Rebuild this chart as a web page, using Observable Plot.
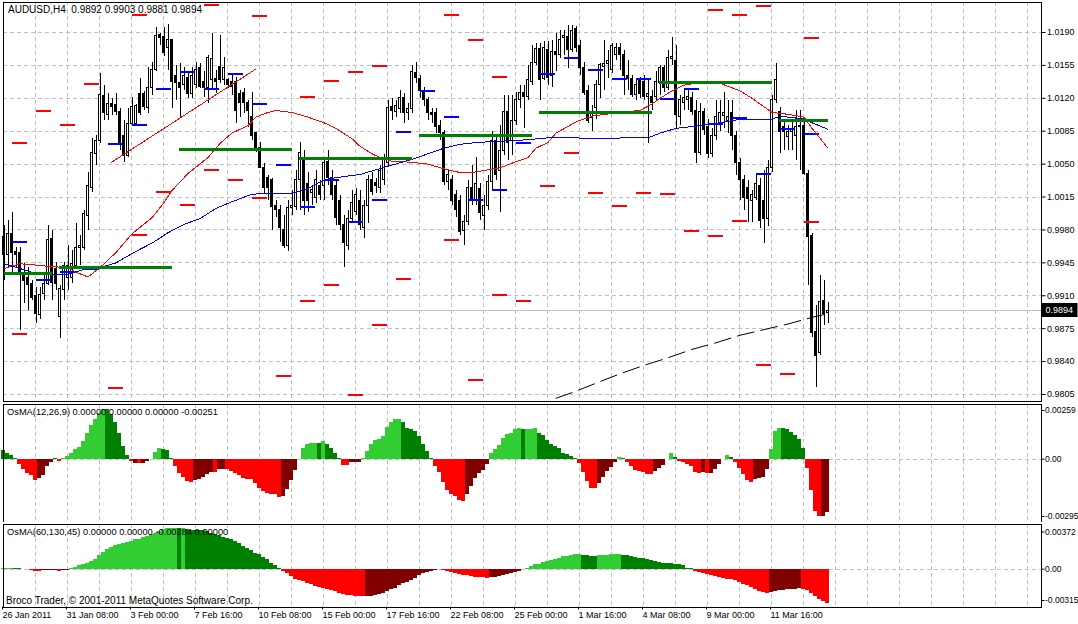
<!DOCTYPE html>
<html><head><meta charset="utf-8">
<script src="https://cdn.jsdelivr.net/npm/d3@7"></script>
<script src="https://cdn.jsdelivr.net/npm/@observablehq/plot@0.6"></script>
<style>
html,body{margin:0;padding:0;background:#fff;overflow:hidden;}
#chart{width:1078px;height:624px;}
#chart svg{display:block;}
</style></head><body><div id="chart"></div>
<script>
// ---------------- DATA ----------------
const symbol = "AUDUSD,H4";
const timeLabels = ["26 Jan 2011","31 Jan 08:00","3 Feb 00:00","7 Feb 16:00","10 Feb 08:00","15 Feb 00:00","17 Feb 16:00","22 Feb 08:00","25 Feb 00:00","1 Mar 16:00","4 Mar 08:00","9 Mar 00:00","11 Mar 16:00"];
const timeLabelBars = [0,16,32,48,64,80,96,112,128,144,160,176,192];
const gridBars = [8,16,24,32,40,48,56,64,72,80,88,96,104,112,120,128,136,144,152,160,168,176,184,192,200,208,216,224,232,240,248,256];
const priceTicks = [1.0190,1.0155,1.0120,1.0085,1.0050,1.0015,0.9980,0.9945,0.9910,0.9875,0.9840,0.9805];
const osma1Ticks = [0.00259, 0, -0.00295];
const osma2Ticks = [0.00372, 0, -0.00315];

// OHLC in pips (price x 10000), one H4 bar each
const openP = [
9972,9953,9976,9957,9955,9934,9929,9922,9910,9890,
9912,9923,9970,9939,9887,9916,9929,9929,9942,9961,
9961,9995,10025,10061,10075,10122,10102,10114,10113,10105,
10080,10059,10093,10093,10125,10125,10110,10131,10150,10187,
10185,10173,10182,10144,10136,10134,10142,10125,10134,10152,
10137,10131,10139,10141,10153,10139,10139,10137,10137,10125,
10126,10115,10100,10083,10067,10046,10035,10033,10006,10001,
9980,9963,10003,10004,10033,10057,10029,10019,10014,10027,
10027,10052,10035,10027,10011,9985,9963,9992,9999,10011,
9982,10006,10033,10030,10025,10033,10051,10111,10105,10109,
10120,10104,10109,10147,10141,10128,10118,10104,10104,10091,
10083,10031,10033,10017,10011,9979,9988,10025,10011,10024,
9995,10006,10031,10075,10043,10064,10105,10075,10096,10118,
10126,10121,10137,10158,10172,10141,10171,10144,10169,10166,
10184,10185,10171,10194,10176,10152,10128,10099,10110,10134,
10153,10157,10150,10166,10173,10166,10144,10141,10123,10139,
10137,10121,10121,10121,10136,10152,10131,10162,10160,10100,
10115,10118,10120,10107,10062,10105,10089,10061,10080,10093,
10101,10096,10104,10080,10051,10033,10025,10011,10014,10027,
10011,9992,10046,10118,10105,10089,10079,10084,10080,10091,
10091,10040,9974,9871,9849,9904,9892];
const highP = [
9985,9990,9999,9961,9961,9944,9940,9926,9919,9919,
9934,9985,9979,9945,9921,9945,9963,9958,9987,9974,
10001,10041,10077,10080,10146,10134,10125,10120,10125,10109,
10096,10109,10121,10113,10141,10127,10153,10158,10195,10189,
10195,10198,10183,10155,10157,10153,10148,10153,10158,10157,
10148,10166,10189,10150,10187,10163,10141,10144,10142,10128,
10130,10118,10126,10084,10073,10051,10038,10035,10011,10006,
9995,10011,10022,10043,10073,10064,10041,10027,10043,10033,
10054,10064,10043,10033,10017,9995,10001,10022,10024,10022,
10011,10038,10041,10035,10049,10060,10118,10120,10118,10128,
10125,10115,10155,10158,10144,10131,10121,10109,10109,10096,
10086,10043,10038,10022,10017,9995,10033,10049,10057,10029,
10017,10038,10085,10080,10091,10123,10123,10123,10126,10134,
10134,10155,10176,10178,10178,10180,10180,10182,10189,10192,
10192,10197,10197,10196,10182,10158,10134,10112,10139,10157,
10182,10171,10178,10178,10178,10171,10160,10144,10141,10142,
10144,10139,10128,10148,10155,10155,10171,10185,10176,10123,
10130,10130,10126,10118,10115,10109,10098,10088,10118,10118,
10126,10118,10118,10085,10056,10038,10033,10022,10038,10035,
10043,10054,10123,10157,10110,10096,10091,10096,10107,10107,
10096,10043,9976,9900,9932,9926,9903];
const lowP = [
9926,9939,9935,9940,9873,9902,9894,9905,9880,9885,
9905,9921,9905,9916,9865,9905,9916,9923,9940,9942,
9958,9979,10020,10049,10072,10096,10096,10102,10102,10064,
10052,10057,10091,10091,10102,10107,10104,10123,10148,10176,
10164,10150,10109,10118,10100,10128,10120,10120,10130,10130,
10121,10114,10130,10125,10136,10134,10130,10123,10093,10100,
10104,10089,10075,10062,10045,10019,10011,9979,9993,9967,
9960,9957,9995,10001,10001,9995,9999,10006,10008,10011,
10011,10027,10011,9985,9979,9940,9958,9988,9995,9979,
9971,9987,10017,10019,10019,10027,10046,10096,10100,10104,
10093,10096,10104,10136,10120,10111,10096,10093,10083,10075,
10027,10022,10006,9993,9974,9963,9985,10006,10006,9990,
9979,10001,10022,10033,9999,10059,10054,10059,10091,10109,
10088,10118,10134,10155,10118,10139,10134,10131,10148,10162,
10166,10152,10169,10169,10144,10123,10093,10085,10098,10120,
10128,10141,10146,10160,10150,10123,10128,10121,10118,10120,
10118,10072,10107,10118,10123,10126,10128,10155,10088,10091,
10107,10107,10102,10051,10059,10080,10056,10057,10075,10085,
10088,10083,10064,10038,10011,10001,9988,9988,10011,9982,
9966,9984,10041,10114,10061,10064,10064,10064,10054,10043,
10038,9921,9866,9812,9846,9878,9881];
const closeP = [
9953,9976,9956,9953,9935,9926,9921,9908,9891,9911,
9923,9969,9924,9923,9917,9942,9942,9944,9961,9963,
9997,10027,10062,10075,10123,10104,10114,10111,10105,10073,
10059,10093,10111,10112,10104,10111,10131,10150,10186,10184,
10168,10182,10137,10136,10131,10144,10125,10144,10150,10132,
10131,10163,10162,10137,10139,10152,10134,10132,10107,10115,
10115,10107,10080,10067,10046,10025,10025,10004,10001,9982,
9963,10003,10006,10033,10062,10011,10011,10022,10033,10017,
10051,10035,10017,9993,9985,9966,9992,10009,10017,9985,
10006,10033,10020,10027,10043,10054,10110,10107,10112,10120,
10104,10109,10148,10142,10128,10118,10104,10102,10089,10083,
10031,10038,10011,10001,9978,9988,10025,10011,10029,9998,
10006,10031,10075,10038,10064,10105,10072,10096,10118,10126,
10121,10139,10158,10172,10139,10174,10142,10169,10166,10182,
10186,10171,10192,10174,10152,10126,10096,10104,10134,10155,
10157,10160,10176,10174,10166,10144,10141,10123,10134,10125,
10121,10125,10115,10137,10152,10131,10163,10164,10102,10118,
10120,10121,10105,10062,10105,10086,10061,10080,10100,10104,
10104,10100,10080,10051,10033,10014,10013,10017,10029,9990,
9992,10046,10118,10139,10084,10084,10084,10086,10089,10089,
10040,9972,9870,9846,9903,9891,9894];

// moving averages (bar index, pips)
const redMABars = [0,4,7,12,16,18,21,24,28,32,37,40,42,46,51,54,57,61,63,66,68,72,76,80,83,87,89,92,94,97,102,106,110,114,117,121,124,127,131,133,136,138,141,143,147,152,156,159,162,164,167,170,173,179,184,187,190,192,196,200,202,206];
const redMALevels = [9939,9944,9943,9941,9940,9935,9930,9940,9956,9976,9993,10009,10022,10040,10057,10072,10083,10091,10100,10105,10107,10105,10100,10094,10088,10077,10069,10061,10057,10053,10052,10050,10045,10041,10041,10044,10046,10051,10057,10067,10073,10083,10090,10095,10101,10104,10106,10107,10114,10120,10128,10134,10136,10136,10128,10120,10111,10105,10103,10100,10088,10067];
const blueMABars = [0,4,7,12,16,20,24,28,32,37,41,45,49,53,57,62,66,72,76,79,82,87,89,97,102,106,110,114,118,122,127,131,136,143,147,156,161,164,168,172,179,183,192,194,200,202,206];
const blueMALevels = [9944,9939,9935,9932,9933,9938,9940,9945,9955,9966,9977,9986,9992,10003,10010,10018,10019,10019,10024,10031,10035,10038,10039,10049,10055,10061,10067,10071,10073,10074,10075,10076,10078,10078,10077,10078,10078,10083,10088,10090,10094,10097,10098,10101,10098,10094,10087];
const slowMABars = [138,142,148,154,160,166,172,178,184,190,196,202,206];
const slowMALevels = [9801,9807,9817,9827,9836,9844,9853,9860,9868,9874,9880,9887,9891];

// daily levels (day number from 27 Jan), pips
const firstDayBar = 2, barsPerDay = 6;
const redDashDays = [0,0,1,2,3,4,5,5,6,7,8,8,9,10,10,11,12,12,13,13,14,14,15,15,16,18,18,19,19,20,20,21,22,23,24,25,26,27,28,29,29,30,30,31,31,32,33,33];
const redDashLevels = [10073,9869,10106,10092,10135,9812,9975,10209,10020,10007,10219,10044,10033,10208,10014,9825,10121,9904,10138,9921,10148,9805,10154,9879,9928,10209,9969,10182,9820,10143,9911,9904,10027,10062,10019,10005,10019,10018,9979,10214,9974,10209,9990,10218,9836,9827,10184,9988];
const blueDashLevels = [9967,9927,9935,9938,10071,10092,10130,10148,10130,10146,10114,10049,10004,10033,9988,10012,10084,10128,10100,10012,10023,10073,10146,10163,10150,10141,10141,10119,10130,10093,10099,10039,10087,10082];

// weekly levels (start bar of week), pips
const weekStartBars = [-16,14,44,74,104,134,164,194];
const weekLevels = [9934,9940,10066,10056,10080,10105,10137,10096];

// trend line
const trendBars = [26.9, 62.9];
const trendLevels = [10052, 10151];

// OsMA(12,26,9) in 1e-5
const osma1Values = [
39,25,16,5,-27,-50,-69,-78,-101,-93,
-78,-34,-16,1,-11,3,13,28,44,56,
83,122,157,185,216,234,232,208,172,122,
60,16,-11,-22,-22,-22,-11,-3,31,48,
44,41,1,-34,-69,-85,-105,-110,-100,-97,
-85,-74,-63,-63,-47,-47,-50,-58,-69,-78,
-89,-94,-97,-113,-136,-152,-160,-165,-168,-179,
-174,-144,-100,-53,-3,52,67,75,75,72,
81,67,52,28,5,-31,-31,-16,-16,-16,
5,36,67,88,91,107,149,174,185,188,
172,146,138,130,107,67,36,3,-34,-63,
-110,-147,-168,-175,-194,-199,-168,-128,-89,-69,
-53,-27,25,47,63,99,114,122,138,146,
138,138,141,146,119,110,88,67,60,52,
28,20,13,5,-22,-63,-105,-136,-137,-113,
-85,-58,-39,-16,6,3,-16,-34,-53,-58,
-63,-72,-73,-58,-42,-31,-3,25,9,-11,
-16,-24,-34,-63,-66,-63,-66,-65,-47,-27,
-3,16,9,-16,-42,-74,-100,-110,-94,-89,
-85,-47,44,130,146,145,138,125,110,94,
52,-42,-147,-246,-270,-268,-251];
const osma1States = ["GGGG","RRRRR","MMMM","G","R","LLLLLLLLLLL","GGGGGG","R","MRMMM","LL","GGG","RRRRR","MMMMM","R","MM","RRRRRRRRRRRRRR","MMMMM","LLLL","G","L","GGGG","RR","MMM","LLLLLLLLLL","GGGGGGGG","RRRRRRRR","MMMMMM","LLLLLLLL","G","LLL","GGGGGGGGGG","RRRRR","MMMMM","L","G","RRRRRRR","MMMM","L","G","RRRRRR","M","R","MMMM","L","G","RRRRR","MMMM","LLL","GGGGGG","RRRR","MM"];

// OsMA(60,130,45) in 1e-5
const osma2Values = [
2,2,6,6,2,1,1,-11,-17,-19,
-11,-11,-11,-11,-19,-11,-8,6,14,27,
36,50,64,83,111,139,160,180,194,208,
216,222,230,243,249,263,272,285,299,313,
327,335,337,341,339,340,327,326,325,324,
322,313,299,291,277,263,258,243,230,210,
189,175,155,133,119,100,77,50,27,8,
-19,-33,-61,-83,-94,-102,-116,-130,-144,-152,
-160,-172,-177,-189,-199,-210,-219,-222,-227,-227,
-230,-229,-227,-222,-214,-199,-185,-172,-158,-139,
-122,-111,-94,-75,-56,-39,-27,-19,-11,-6,
-11,-19,-27,-33,-42,-52,-53,-61,-66,-69,
-70,-75,-69,-68,-61,-56,-47,-39,-27,-19,
-6,6,22,36,37,56,64,72,77,86,
102,103,111,119,120,111,110,106,105,111,
112,113,119,120,121,114,111,106,97,91,
89,83,72,64,56,50,49,48,42,36,
27,8,6,-19,-27,-33,-47,-52,-61,-69,
-75,-83,-89,-97,-111,-125,-139,-152,-166,-185,
-194,-199,-194,-185,-180,-179,-172,-171,-166,-165,
-172,-180,-199,-227,-249,-268,-284];
const osma2StateCodes = ["L","G","R","M","R","M","L","G","L","G","R","M","R","M","L","G","L","G","R","M","R"];
const osma2StateRuns = [3,4,3,4,1,2,27,1,1,24,21,19,12,9,14,4,6,18,19,8,7];

// ---------------- BUILD ----------------
const STATE_COLORS = {L: "#32CD32", G: "#008000", R: "#FF0000", M: "#800000"};
const GRID = "#c0c0c0";
const FONT = "'Liberation Sans', Arial, sans-serif";
const N = openP.length;
const bars = openP.map((o, i) => ({i, o: o / 1e4, h: highP[i] / 1e4, l: lowP[i] / 1e4, c: closeP[i] / 1e4}));
const bull = bars.filter(d => d.c >= d.o);
const bear = bars.filter(d => d.c < d.o);
const flat = bars.filter(d => Math.abs(d.c - d.o) < 0.00015);
const last = bars[N - 1];
const toPts = (bs, ls) => bs.map((b, k) => ({i: b, p: ls[k] / 1e4}));
const redMA = toPts(redMABars, redMALevels);
const blueMA = toPts(blueMABars, blueMALevels);
const slowMA = toPts(slowMABars, slowMALevels);
const trend = toPts(trendBars, trendLevels);
const redDash = redDashDays.map((d, k) => ({s: firstDayBar + barsPerDay * d, p: redDashLevels[k] / 1e4}));
const blueDash = blueDashLevels.map((v, d) => ({s: firstDayBar + barsPerDay * d, p: v / 1e4}));
const weeks = weekStartBars.map((s, k) => ({s, p: weekLevels[k] / 1e4}));
const codes1 = osma1States.join("").split("");
const codes2 = osma2StateCodes.flatMap((c, k) => Array(osma2StateRuns[k]).fill(c));
const h1 = osma1Values.map((v, i) => ({i, v: v / 1e5, code: codes1[i] || "G"}));
const h2 = osma2Values.map((v, i) => ({i, v: v / 1e5, code: codes2[i] || "G"}));

const fmt4 = d => d.toFixed(4);
const fmtS = n => d => (d < 0 ? "-" : "") + Math.abs(d).toFixed(n);
const X_DOMAIN = [-0.25, 259.25];
const common = {
  width: 1078, marginLeft: 2.5, marginRight: 37.5,
  style: {fontFamily: FONT, fontSize: "9px", background: "white", color: "black"}
};
const gridX = () => Plot.ruleX(gridBars, {x: d => d - 0.125, stroke: GRID, strokeDasharray: "4,3", shapeRendering: "crispEdges"});
const crisp = {shapeRendering: "crispEdges"};

const mainPlot = Plot.plot({
  ...common, height: 402, marginTop: 1.5, marginBottom: 1.5,
  x: {domain: X_DOMAIN, axis: null},
  y: {domain: [0.979809, 1.022244]},
  marks: [
    Plot.ruleY(priceTicks, {stroke: GRID, strokeDasharray: "4,3", ...crisp}),
    gridX(),
    Plot.ruleY([last.c], {stroke: GRID, ...crisp}),
    Plot.ruleX(bars, {x: "i", y1: "l", y2: "h", stroke: "black", ...crisp}),
    Plot.rect(bull, {x1: d => d.i - 0.25, x2: d => d.i + 0.25, y1: "o", y2: "c", fill: "white", stroke: "black", ...crisp}),
    Plot.rect(bear, {x1: d => d.i - 0.25, x2: d => d.i + 0.25, y1: "o", y2: "c", fill: "black", stroke: "black", ...crisp}),
    Plot.ruleY(flat, {y: "c", x1: d => d.i - 0.375, x2: d => d.i + 0.375, stroke: "black", ...crisp}),
    Plot.ruleY(redDash, {y: "p", x1: d => d.s + 0.1, x2: d => d.s + 3.9, stroke: "#FF0000", strokeWidth: 2, ...crisp}),
    Plot.ruleY(blueDash, {y: "p", x1: d => d.s + 0.1, x2: d => d.s + 3.9, stroke: "#0000FF", strokeWidth: 2, ...crisp}),
    Plot.line(slowMA, {x: "i", y: "p", stroke: "black", strokeWidth: 1, strokeDasharray: "17,7", clip: true}),
    Plot.line(redMA, {x: "i", y: "p", stroke: "#FF0000", strokeWidth: 1, clip: true, ...crisp}),
    Plot.line(blueMA, {x: "i", y: "p", stroke: "#0000FF", strokeWidth: 1, clip: true, ...crisp}),
    Plot.ruleY(weeks, {y: "p", x1: d => Math.max(d.s, 0) - 0.1, x2: d => Math.min(d.s + 28, N - 1) + 0.1, stroke: "#008000", strokeWidth: 3, ...crisp}),
    Plot.line(trend, {x: "i", y: "p", stroke: "#FF0000", strokeWidth: 1, ...crisp}),
    Plot.text([`${symbol}  ${fmt4(last.o)} ${fmt4(last.h)} ${fmt4(last.l)} ${fmt4(last.c)}`],
      {text: d => d, frameAnchor: "top-left", textAnchor: "start", lineAnchor: "top", dx: 5, dy: 4, fontSize: 10, fill: "black"}),
    Plot.axisY(priceTicks, {anchor: "right", tickSize: 4, tickPadding: 2, tickFormat: fmt4, label: null}),
    Plot.frame({stroke: "black", ...crisp})
  ]
});

const osmaAxes = (ticks, dTop, dBot) => [
  Plot.axisY([ticks[0]], {anchor: "right", tickSize: 3, tickPadding: 1, dy: dTop, fontSize: 8.5, tickFormat: fmtS(5), label: null}),
  Plot.axisY([ticks[1]], {anchor: "right", tickSize: 3, tickPadding: 1, fontSize: 8.5, tickFormat: () => "0.00", label: null}),
  Plot.axisY([ticks[2]], {anchor: "right", tickSize: 3, tickPadding: 1, dy: dBot, fontSize: 8.5, tickFormat: fmtS(5), label: null})
];

const p2 = Plot.plot({
  ...common, height: 120, marginTop: 1.5, marginBottom: 0.5,
  x: {domain: X_DOMAIN, axis: null},
  y: {domain: [osma1Ticks[2], osma1Ticks[0]]},
  color: {type: "identity"},
  marks: [
    gridX(),
    Plot.ruleY([0], {stroke: GRID, strokeDasharray: "4,3", ...crisp}),
    Plot.rect(h1, {x1: d => d.i - 0.625, x2: d => d.i + 0.375, y1: 0, y2: "v", fill: d => STATE_COLORS[d.code], ...crisp}),
    Plot.text([`OsMA(12,26,9) 0.00000 0.00000 0.00000 ${fmtS(5)(osma1Values[N - 1] / 1e5)}`],
      {text: d => d, frameAnchor: "top-left", textAnchor: "start", lineAnchor: "top", dx: 4, dy: 4, fontSize: 9.3, fill: "black"}),
    ...osmaAxes(osma1Ticks, 6.5, -5.5),
    Plot.frame({stroke: "black", ...crisp})
  ]
});

const p3 = Plot.plot({
  ...common, height: 102, marginTop: 2, marginBottom: 17.5,
  x: {domain: X_DOMAIN},
  y: {domain: [osma2Ticks[2], osma2Ticks[0]]},
  color: {type: "identity"},
  marks: [
    gridX(),
    Plot.ruleY([0], {stroke: GRID, strokeDasharray: "4,3", ...crisp}),
    Plot.rect(h2, {x1: d => d.i - 0.625, x2: d => d.i + 0.375, y1: 0, y2: "v", fill: d => STATE_COLORS[d.code], ...crisp}),
    Plot.text([`OsMA(60,130,45) 0.00000 0.00000 ${fmtS(5)(osma2Values[N - 1] / 1e5)} 0.00000`],
      {text: d => d, frameAnchor: "top-left", textAnchor: "start", lineAnchor: "top", dx: 4, dy: 4, fontSize: 9.3, fill: "black"}),
    Plot.text(["Broco Trader, © 2001-2011 MetaQuotes Software Corp."],
      {text: d => d, frameAnchor: "bottom-left", textAnchor: "start", lineAnchor: "bottom", dx: 3, dy: -3, fontSize: 10, fill: "black"}),
    ...osmaAxes(osma2Ticks, 7.5, -6.5),
    Plot.axisX(timeLabelBars, {anchor: "bottom", tickSize: 3, dx: -1.5, tickFormat: () => "", label: null}),
    Plot.text(timeLabelBars, {x: d => d, text: (d, k) => timeLabels[k], frameAnchor: "bottom", textAnchor: "start", lineAnchor: "top", dx: -1.5, dy: 5, fill: "black"}),
    Plot.frame({stroke: "black", ...crisp})
  ]
});

const root = document.getElementById("chart");
root.append(mainPlot, p2, p3);

// current price marker box on the right scale
const yPx = mainPlot.scale("y").apply(last.c);
const xBox = 1078 - 37.5 + 1;
const g = d3.select(mainPlot).append("g").attr("text-anchor", "start");
g.append("rect").attr("x", xBox).attr("y", Math.round(yPx) - 7).attr("width", 36).attr("height", 14).attr("fill", "black");
g.append("text").attr("x", xBox + 4).attr("y", yPx).attr("dy", "0.35em").attr("fill", "white").attr("text-anchor", "start")
  .attr("font-size", 9).attr("font-family", FONT).text(fmt4(last.c));
</script>
</body></html>
